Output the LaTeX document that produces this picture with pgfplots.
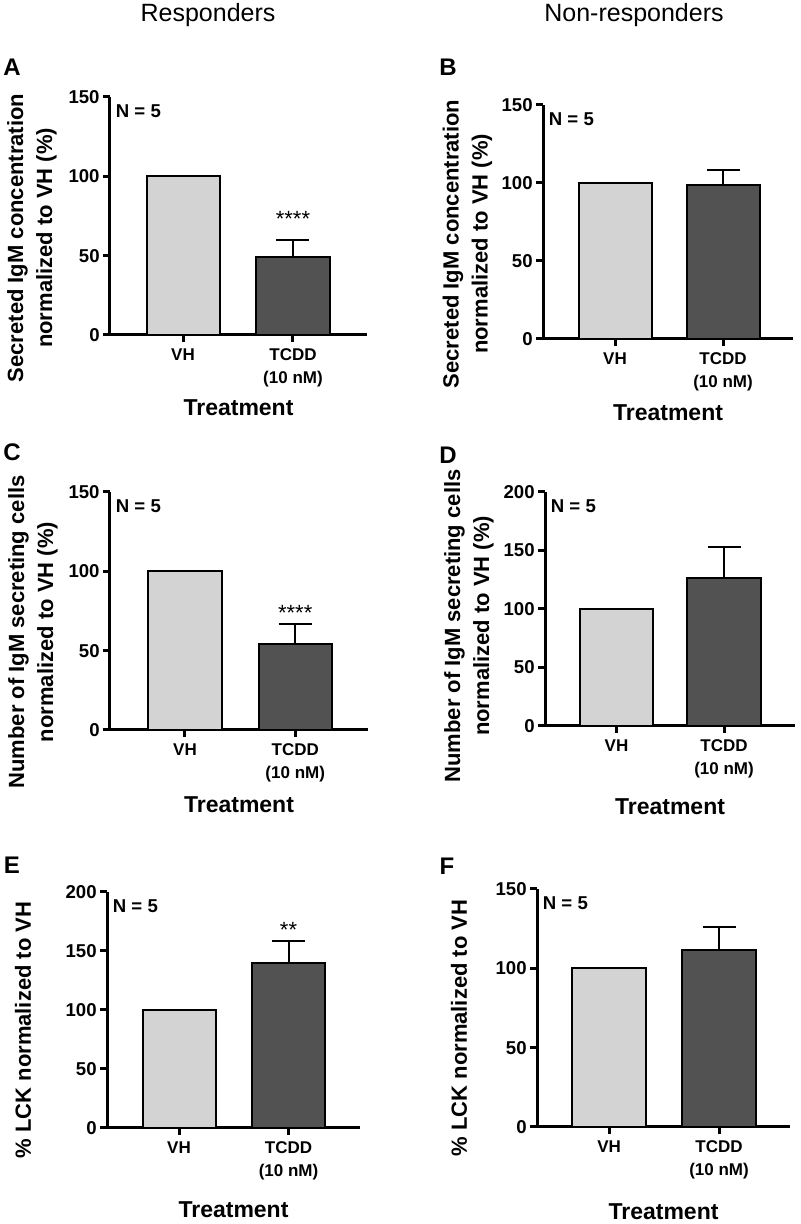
\documentclass[border=0pt]{standalone}
\usepackage{fontspec}
\setmainfont{Liberation Sans}
\usepackage{pgfplots}
\pgfplotsset{compat=1.18}

\definecolor{vhgray}{RGB}{211,211,211}
\definecolor{tcddgray}{RGB}{82,82,82}

\pgfplotsset{
  prism/.style={
    scale only axis, anchor=south west,
    axis lines=left, axis line style={-, line width=1.5pt, black},
    tick align=outside, major tick length=3.5pt,
    tick style={line width=1.5pt, black},
    xtick={0,1}, xticklabels={VH, TCDD\\(10 nM)},
    xticklabel style={align=center, font=\bfseries\fontsize{8.5}{11.5}\selectfont},
    yticklabel style={font=\bfseries\fontsize{9.3}{10}\selectfont, inner sep=1.5pt},
    /pgf/number format/assume math mode=true,
    ymin=0, clip=false,
    xlabel={Treatment},
    xlabel style={font=\bfseries\fontsize{11.5}{13}\selectfont, anchor=center},
    ylabel style={font=\bfseries\fontsize{11}{14.5}\selectfont, align=center, anchor=center},
  },
  vhbar/.style={ybar, bar shift=0pt, fill=vhgray, draw=black, line width=1pt},
  tcddbar/.style={ybar, bar shift=0pt, fill=tcddgray, draw=black, line width=1pt,
    error bars/.cd, y dir=plus, y explicit,
    error bar style={line width=1pt, black},
    error mark options={rotate=90, mark size=8.25pt, line width=1pt, black}},
}
\newcommand{\nfive}{\node[anchor=north west, inner sep=0pt, xshift=2.75pt, yshift=-3.5pt,
  font=\bfseries\fontsize{9.3}{10}\selectfont] at (axis description cs:0,1) {N = 5};}

\begin{document}
\begin{tikzpicture}
\useasboundingbox (0,0) rectangle (400pt,612pt);

% column headers and panel letters
\node[font=\fontsize{12.5}{14}\selectfont] at (104pt,604.5pt) {Responders};
\node[font=\fontsize{12.5}{14}\selectfont] at (317pt,604.5pt) {Non-responders};
\node[font=\bfseries\fontsize{12}{12}\selectfont] at (6pt,578.5pt) {A};
\node[font=\bfseries\fontsize{12}{12}\selectfont] at (224pt,578.5pt) {B};
\node[font=\bfseries\fontsize{12}{12}\selectfont] at (6pt,386pt) {C};
\node[font=\bfseries\fontsize{12}{12}\selectfont] at (224pt,384.5pt) {D};
\node[font=\bfseries\fontsize{12}{12}\selectfont] at (6pt,179.5pt) {E};
\node[font=\bfseries\fontsize{12}{12}\selectfont] at (223.5pt,179pt) {F};

% A
\begin{axis}[prism, at={(55pt,444.5pt)}, width=128.5pt, height=119pt,
  xmin=-0.664, xmax=1.673, ymax=150, ytick={0,50,100,150}, bar width=0.664,
  ylabel={Secreted IgM concentration\\normalized to VH (\%)},
  ylabel style={at={([xshift=-39pt,yshift=-11pt]axis description cs:0,0.5)}},
  xlabel style={at={([yshift=-36.5pt]axis description cs:0.5,0)}}]
\addplot[vhbar] coordinates {(0,100)};
\addplot[tcddbar] coordinates {(1,49) +- (0,11)};
\node[font=\fontsize{11}{11}\selectfont] at (axis cs:1,73) {****};
\nfive
\end{axis}

% B
\begin{axis}[prism, at={(271.5pt,442.5pt)}, width=125pt, height=117pt,
  xmin=-0.667, xmax=1.648, ymax=150, ytick={0,50,100,150}, bar width=0.676,
  ylabel={Secreted IgM concentration\\normalized to VH (\%)},
  ylabel style={at={([xshift=-37.75pt,yshift=-11pt]axis description cs:0,0.5)}},
  xlabel style={at={([yshift=-37pt]axis description cs:0.5,0)}}]
\addplot[vhbar] coordinates {(0,100)};
\addplot[tcddbar] coordinates {(1,98.5) +- (0,10)};
\nfive
\end{axis}

% C
\begin{axis}[prism, at={(55pt,247pt)}, width=129pt, height=119pt,
  xmin=-0.68, xmax=1.66, ymax=150, ytick={0,50,100,150}, bar width=0.664,
  ylabel={Number of IgM secreting cells\\normalized to VH (\%)},
  ylabel style={at={([xshift=-38.5pt,yshift=-10.5pt]axis description cs:0,0.5)}},
  xlabel style={at={([yshift=-37.5pt]axis description cs:0.5,0)}}]
\addplot[vhbar] coordinates {(0,100)};
\addplot[tcddbar] coordinates {(1,54.2) +- (0,12.6)};
\node[font=\fontsize{11}{11}\selectfont] at (axis cs:1,74) {****};
\nfive
\end{axis}

% D
\begin{axis}[prism, at={(272.5pt,249pt)}, width=125pt, height=117pt,
  xmin=-0.665, xmax=1.66, ymax=200, ytick={0,50,100,150,200}, bar width=0.68,
  ylabel={Number of IgM secreting cells\\normalized to VH (\%)},
  ylabel style={at={([xshift=-38pt,yshift=-8.5pt]axis description cs:0,0.5)}},
  xlabel style={at={([yshift=-40.5pt]axis description cs:0.5,0)}}]
\addplot[vhbar] coordinates {(0,100)};
\addplot[tcddbar] coordinates {(1,126.5) +- (0,26.5)};
\nfive
\end{axis}

% E
\begin{axis}[prism, at={(53.5pt,48pt)}, width=126.5pt, height=118pt,
  xmin=-0.658, xmax=1.653, ymax=200, ytick={0,50,100,150,200}, bar width=0.667,
  ylabel={\% LCK normalized to VH},
  ylabel style={at={([xshift=-42pt,yshift=-10pt]axis description cs:0,0.5)}},
  xlabel style={at={([yshift=-41pt]axis description cs:0.5,0)}}]
\addplot[vhbar] coordinates {(0,100)};
\addplot[tcddbar] coordinates {(1,139.5) +- (0,19)};
\node[font=\fontsize{11}{11}\selectfont] at (axis cs:1,168) {**};
\nfive
\end{axis}

% F
\begin{axis}[prism, at={(268.5pt,48.5pt)}, width=126.5pt, height=119pt,
  xmin=-0.655, xmax=1.645, ymax=150, ytick={0,50,100,150}, bar width=0.67,
  ylabel={\% LCK normalized to VH},
  ylabel style={at={([xshift=-39pt,yshift=-10pt]axis description cs:0,0.5)}},
  xlabel style={at={([yshift=-42.5pt]axis description cs:0.5,0)}}]
\addplot[vhbar] coordinates {(0,100)};
\addplot[tcddbar] coordinates {(1,111.3) +- (0,14.5)};
\nfive
\end{axis}
\end{tikzpicture}
\end{document}
